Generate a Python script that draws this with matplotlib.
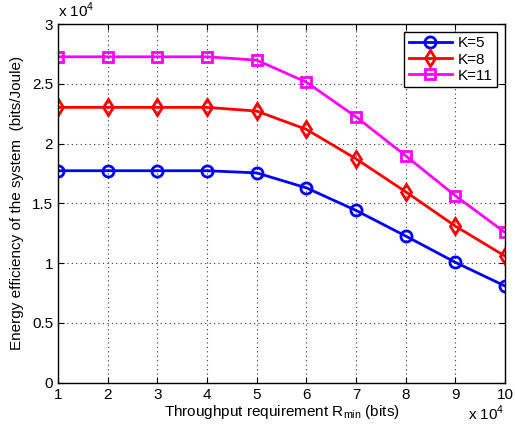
import numpy as np
import matplotlib
matplotlib.use('Agg')
import matplotlib.pyplot as plt

plt.rcParams['font.family'] = ['Liberation Sans', 'DejaVu Sans']

rmin = [1, 2, 3, 4, 5, 6, 7, 8, 9, 10]
ee_k5 = [1.773, 1.773, 1.773, 1.773, 1.755, 1.630, 1.441, 1.227, 1.007, 0.809]
ee_k8 = [2.303, 2.303, 2.303, 2.303, 2.272, 2.119, 1.873, 1.597, 1.310, 1.059]
ee_k11 = [2.726, 2.726, 2.726, 2.726, 2.698, 2.514, 2.224, 1.898, 1.564, 1.257]

fig = plt.figure(figsize=(5.15, 4.26), dpi=100)
ax = fig.add_axes([0.1126, 0.1016, 0.868, 0.842])

ax.plot(rmin, ee_k5, '-o', color='#0000ff', lw=2, ms=8, mfc='none', mew=2, label='K=5')
ax.plot(rmin, ee_k8, '-d', color='#ff0000', lw=2, ms=8, mfc='none', mew=2, label='K=8')
ax.plot(rmin, ee_k11, '-s', color='#ff00ff', lw=2, ms=7, mfc='none', mew=2, label='K=11')

ax.set_xlim(1, 10)
ax.set_ylim(0, 3)
ax.set_xticks(range(1, 11))
ax.set_yticks([0, 0.5, 1, 1.5, 2, 2.5, 3])
ax.set_yticklabels(['0', '0.5', '1', '1.5', '2', '2.5', '3'])
ax.tick_params(direction='in', top=True, right=True, labelsize=11, length=4)
ax.grid(True, linestyle=(0, (1, 3)), color='#333333', lw=0.8)
for s in ax.spines.values():
    s.set_linewidth(1)

ax.set_xlabel('Throughput requirement R$_{\\mathregular{min}}$ (bits)', fontsize=11, labelpad=1)
ax.set_ylabel('Energy efficiency of the system  (bits/Joule)', fontsize=11, labelpad=6)

ax.text(0, 1.012, 'x 10$^{\\mathregular{4}}$', transform=ax.transAxes, fontsize=11, ha='left', va='bottom')
ax.text(1.0, -0.058, 'x 10$^{\\mathregular{4}}$', transform=ax.transAxes, fontsize=11, ha='right', va='top')

leg = ax.legend(loc='upper right', fontsize=11, fancybox=False, edgecolor='black',
                framealpha=1, handlelength=2.8, borderaxespad=0.5, labelspacing=0.15,
                borderpad=0.3, handletextpad=0.4)
leg.get_frame().set_linewidth(1)

fig.savefig('out.png', dpi=100)
